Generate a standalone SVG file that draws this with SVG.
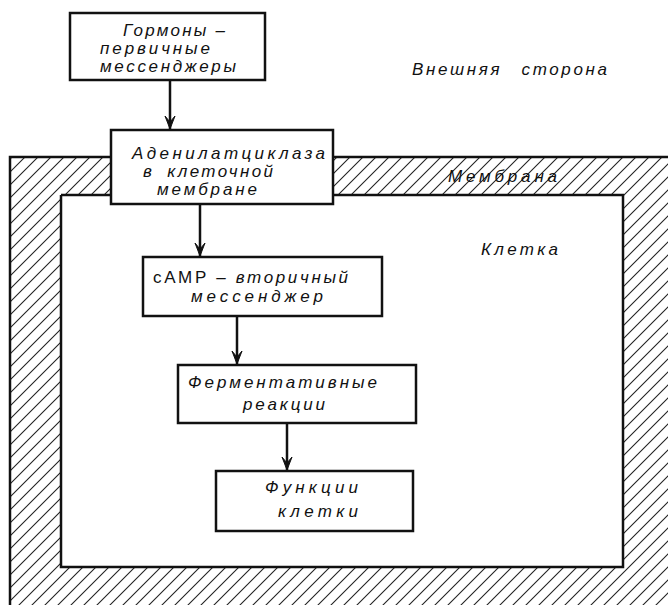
<svg xmlns="http://www.w3.org/2000/svg" width="668" height="605" viewBox="0 0 668 605">
<defs>
<pattern id="hatch" patternUnits="userSpaceOnUse" width="13" height="13">
<path d="M-1,14 L14,-1 M-4,4 L4,-4 M9,17 L17,9" stroke="#222" stroke-width="1.1"/>
</pattern>
<marker id="arr" markerWidth="16" markerHeight="12" refX="15" refY="6" orient="auto" markerUnits="userSpaceOnUse" viewBox="0 0 16 12">
<path d="M2,1 L15,6 L2,11 L8,6 Z" fill="#111" stroke="#111" stroke-width="1"/>
</marker>
</defs>
<style>
.box{fill:#fff;stroke:#111;stroke-width:2.5}
.t{font-family:"Liberation Sans","DejaVu Sans",sans-serif;font-style:italic;font-size:17px;fill:#111}
.u{font-style:normal}
.c{stroke:#111;stroke-width:2.5;fill:none}
</style>
<rect width="668" height="605" fill="#fff"/>
<g id="membrane">
<path d="M10,157 H680 V620 H10 Z M61,195 V567 H623 V195 Z" fill="url(#hatch)" fill-rule="evenodd"/>
<path d="M10,610 V157 H680 M61,195 V567 H623 V195 H61" fill="none" stroke="#111" stroke-width="2.5"/>
<text class="t" x="448" y="182" textLength="109">Мембрана</text>
</g>
<g id="labels">
<text class="t" x="412" y="75" textLength="195" word-spacing="12">Внешняя сторона</text>
<text class="t" x="481" y="255" textLength="77">Клетка</text>
</g>
<g id="connectors">
<line class="c" x1="170" y1="80" x2="170" y2="129" marker-end="url(#arr)"/>
<line class="c" x1="200" y1="204" x2="200" y2="256" marker-end="url(#arr)"/>
<line class="c" x1="237" y1="316" x2="237" y2="364" marker-end="url(#arr)"/>
<line class="c" x1="287" y1="423" x2="287" y2="470" marker-end="url(#arr)"/>
</g>
<g id="n1">
<rect class="box" x="70" y="13" width="195" height="67"/>
<text class="t" x="123" y="36" textLength="102">Гормоны –</text>
<text class="t" x="100" y="54" textLength="110">первичные</text>
<text class="t" x="100" y="72" textLength="136">мессенджеры</text>
</g>
<g id="n2">
<rect class="box" x="111" y="130" width="222" height="74"/>
<text class="t" x="132" y="159" textLength="193">Аденилатциклаза</text>
<text class="t" x="143" y="177" textLength="130" word-spacing="6">в клеточной</text>
<text class="t" x="157" y="195" textLength="100">мембране</text>
</g>
<g id="n3">
<rect class="box" x="143" y="257" width="239" height="59"/>
<text class="t" x="153" y="283" textLength="195"><tspan class="u">cАМР</tspan> – вторичный</text>
<text class="t" x="191" y="302" textLength="132">мессенджер</text>
</g>
<g id="n4">
<rect class="box" x="178" y="365" width="238" height="58"/>
<text class="t" x="188" y="388" textLength="189">Ферментативные</text>
<text class="t" x="243" y="410" textLength="82">реакции</text>
</g>
<g id="n5">
<rect class="box" x="216" y="471" width="197" height="60"/>
<text class="t" x="265" y="493" textLength="93">Функции</text>
<text class="t" x="278" y="517" textLength="80">клетки</text>
</g>
</svg>
